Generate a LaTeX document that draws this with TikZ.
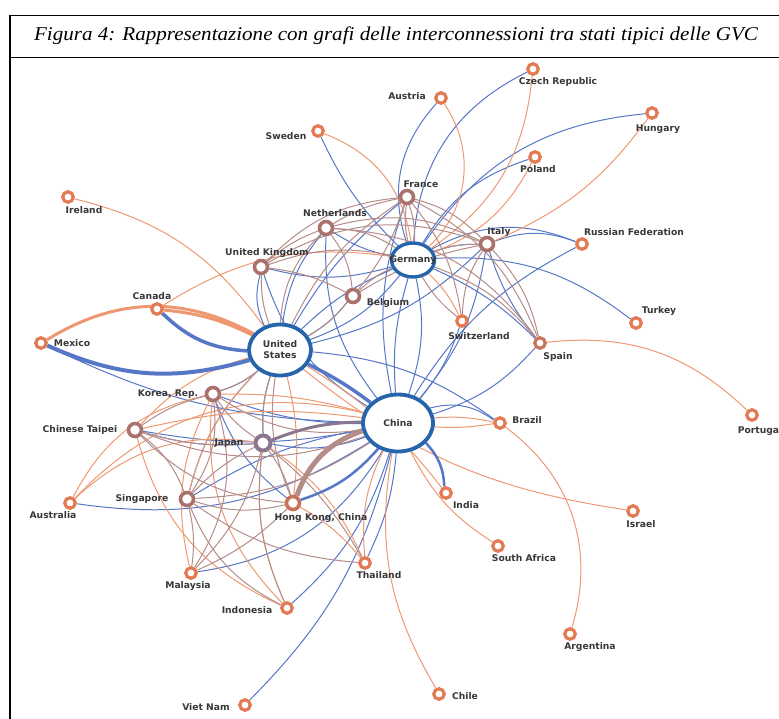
\documentclass[tikz,border=0pt]{standalone}
\usepackage{fontspec}
\setmainfont{Liberation Serif}
\newfontfamily\lblfont{DejaVu Sans}
\usetikzlibrary{shapes.geometric}
\pgfdeclarelayer{bg}
\pgfsetlayers{bg,main}
\definecolor{hubblue}{RGB}{38,100,172}
\definecolor{edgeblue}{RGB}{86,118,198}
\definecolor{ringorange}{RGB}{226,122,84}
\definecolor{edgeorange}{RGB}{238,152,114}
\definecolor{ringmauve}{RGB}{170,114,108}
\definecolor{edgemauve}{RGB}{180,140,136}
\definecolor{ringjpn}{RGB}{138,118,142}
\definecolor{ringmix}{RGB}{200,116,90}
\tikzset{
  ring/.style={circle,draw=ringorange,line width=3.2pt,fill=white,minimum size=10.5pt,inner sep=0pt},
  mring/.style={ring,draw=ringmauve,line width=3.6pt,minimum size=13pt},
  hub/.style={ellipse,draw=hubblue,line width=3.8pt,fill=white,inner sep=0pt},
  lbl/.style={inner sep=0pt,font=\lblfont\bfseries\fontsize{9.2}{11}\selectfont,text=black!78,align=center},
  eb/.style={draw=edgeblue,line width=1pt},
  eo/.style={draw=edgeorange,line width=1pt},
  em/.style={draw=edgemauve,line width=1pt},
}
\begin{document}
\begin{tikzpicture}[x=1pt,y=-1pt]
\useasboundingbox (0,0) rectangle (779,718);
% frame and caption
\draw[line width=1.6pt] (10,15.5) rectangle (800,740);
\draw[line width=1.6pt] (10,57.5) -- (800,57.5);
\node[font=\fontsize{19.5}{22}\selectfont\itshape] (title) at (396,36)
  {\scalebox{1.08}[1]{Figura 4: Rappresentazione con grafi delle interconnessioni tra stati tipici delle GVC}};
% hubs
\node[hub,minimum width=62pt,minimum height=51pt] (usa) at (280,350) {};
\node[hub,minimum width=70pt,minimum height=57pt] (chn) at (398,423) {};
\node[hub,minimum width=43pt,minimum height=34pt,line width=3.4pt] (deu) at (413,260) {};
\node[lbl] (usa-t) at (usa) {United\\States};
\node[lbl] (chn-t) at (chn) {China};
\node[lbl] (deu-t) at (deu) {Germany};
% europe
\node[mring] (fra) at (407,197) {};
\node[mring] (nld) at (326,228) {};
\node[mring] (ita) at (487,244) {};
\node[mring] (gbr) at (261,267) {};
\node[mring] (bel) at (353,296) {};
\node[ring] (che) at (462,321) {};
\node[ring,draw=ringmix] (esp) at (540,343) {};
\node[ring] (aut) at (441,98) {};
\node[ring] (cze) at (533,69) {};
\node[ring] (swe) at (318,131) {};
\node[ring] (hun) at (652,113) {};
\node[ring] (pol) at (535,157) {};
\node[ring] (irl) at (68,197) {};
\node[ring] (rus) at (582,244) {};
\node[ring] (tur) at (636,323) {};
\node[ring] (prt) at (752,415) {};
% americas
\node[ring] (can) at (157,309) {};
\node[ring] (mex) at (41,343) {};
\node[ring] (bra) at (500,423) {};
\node[ring] (arg) at (570,634) {};
\node[ring] (chl) at (439,694) {};
% asia and the rest
\node[mring] (kor) at (213,394) {};
\node[mring] (twn) at (135,430) {};
\node[mring,draw=ringjpn,minimum size=15pt,line width=4pt] (jpn) at (263,443) {};
\node[mring] (sgp) at (187,499) {};
\node[mring,draw=ringmix] (hkg) at (293,503) {};
\node[ring] (ind) at (446,493) {};
\node[ring] (aus) at (70,503) {};
\node[ring] (isr) at (633,511) {};
\node[ring] (zaf) at (498,546) {};
\node[ring] (tha) at (365,563) {};
\node[ring] (mys) at (191,573) {};
\node[ring] (idn) at (287,608) {};
\node[ring] (vnm) at (245,705) {};
% labels
\node[lbl] (fra-t) at (421,184) {France};
\node[lbl] (nld-t) at (335,213) {Netherlands};
\node[lbl] (ita-t) at (499,232) {Italy};
\node[lbl] (gbr-t) at (267,253) {United Kingdom};
\node[lbl] (bel-t) at (388,303) {Belgium};
\node[lbl] (che-t) at (479,336) {Switzerland};
\node[lbl] (esp-t) at (558,357) {Spain};
\node[lbl] (aut-t) at (407,96) {Austria};
\node[lbl] (cze-t) at (558,82) {Czech Republic};
\node[lbl] (swe-t) at (286,136) {Sweden};
\node[lbl] (hun-t) at (658,129) {Hungary};
\node[lbl] (pol-t) at (538,169) {Poland};
\node[lbl] (irl-t) at (84,210) {Ireland};
\node[lbl] (rus-t) at (634,232) {Russian Federation};
\node[lbl] (tur-t) at (659,311) {Turkey};
\node[lbl] (prt-t) at (760,431) {Portugal};
\node[lbl] (can-t) at (152,296) {Canada};
\node[lbl] (mex-t) at (72,343) {Mexico};
\node[lbl] (bra-t) at (527,420) {Brazil};
\node[lbl] (arg-t) at (590,647) {Argentina};
\node[lbl] (chl-t) at (465,696) {Chile};
\node[lbl] (kor-t) at (168,394) {Korea, Rep.};
\node[lbl] (twn-t) at (80,430) {Chinese Taipei};
\node[lbl] (jpn-t) at (229,443) {Japan};
\node[lbl] (sgp-t) at (142,499) {Singapore};
\node[lbl] (hkg-t) at (321,518) {Hong Kong, China};
\node[lbl] (ind-t) at (466,505) {India};
\node[lbl] (aus-t) at (53,515) {Australia};
\node[lbl] (isr-t) at (641,524) {Israel};
\node[lbl] (zaf-t) at (524,558) {South Africa};
\node[lbl] (tha-t) at (379,575) {Thailand};
\node[lbl] (mys-t) at (188,586) {Malaysia};
\node[lbl] (idn-t) at (247,610) {Indonesia};
\node[lbl] (vnm-t) at (206,707) {Viet Nam};
% links
\begin{pgfonlayer}{bg}
\foreach \a/\b/\c in {aut/deu/-30,cze/deu/-30,hun/deu/-25,pol/deu/-20,swe/deu/-10,
  rus/deu/-25,rus/ita/-20,rus/chn/-15,tur/deu/-20,chn/bra/25,usa/bra/15,vnm/chn/-15,idn/chn/-15,
  mys/chn/-25,aus/chn/-20,mex/chn/-12,twn/chn/-10,kor/chn/-10,sgp/chn/10,tha/chn/-10,
  usa/deu/10,usa/deu/-15,usa/gbr/20,usa/nld/15,usa/fra/10,usa/bel/-10,usa/ita/-15,
  chn/deu/10,chn/deu/-15,chn/fra/15,chn/ita/-15,chn/nld/20,chn/esp/-15,chn/che/-10,
  chn/gbr/20,usa/jpn/-10,usa/kor/10,usa/sgp/-15,twn/jpn/-10,kor/hkg/-15,gbr/deu/-15,
  nld/deu/-10,deu/esp/10,deu/ita/10,jpn/chn/-15,ita/esp/-10}
  \draw[eb] (\a) to[bend left=\c] (\b);
\foreach \a/\b/\c in {aut/deu/40,cze/deu/25,hun/ita/15,pol/deu/20,swe/deu/30,irl/usa/20,
  esp/prt/25,bra/arg/35,bra/chn/-8,bra/chn/6,ind/usa/-10,usa/isr/-15,zaf/chn/15,
  chl/chn/20,tha/jpn/-15,tha/hkg/-10,tha/chn/15,idn/jpn/15,idn/kor/25,mys/kor/20,
  aus/chn/30,aus/jpn/25,aus/kor/25,twn/chn/10,twn/usa/15,kor/chn/8,hkg/usa/-10,
  sgp/usa/15,can/deu/20,ind/chn/-20,che/deu/-10,idn/twn/25}
  \draw[eo] (\a) to[bend left=\c] (\b);
\foreach \a/\b/\c in {fra/deu/10,fra/deu/-10,nld/deu/15,ita/deu/-10,gbr/deu/15,bel/deu/10,
  che/deu/10,esp/deu/-15,fra/ita/15,fra/esp/20,fra/nld/-10,fra/gbr/-20,fra/bel/10,
  fra/che/15,nld/gbr/-10,nld/bel/15,nld/ita/20,nld/esp/25,gbr/bel/10,gbr/ita/25,
  ita/esp/15,ita/che/-15,bel/ita/10,gbr/usa/-10,nld/usa/-20,fra/usa/-15,bel/usa/10,
  jpn/usa/10,jpn/kor/10,jpn/twn/10,jpn/sgp/-10,jpn/hkg/10,jpn/mys/15,jpn/idn/-15,
  jpn/tha/10,kor/chn/-20,kor/usa/-10,kor/twn/-10,kor/sgp/20,kor/mys/25,twn/sgp/15,
  twn/hkg/-20,sgp/hkg/-15,sgp/mys/10,sgp/idn/-20,sgp/tha/-15,hkg/usa/15,mys/hkg/-10,
  twn/chn/-20,sgp/chn/-15}
  \draw[em] (\a) to[bend left=\c] (\b);
% heavy links
\draw[eb,line width=4pt] (mex) to[bend right=20] (usa);
\draw[eo,line width=3pt] (mex) to[bend left=30] (usa);
\draw[eb,line width=3.5pt] (can) to[bend right=20] (usa);
\draw[eo,line width=3pt] (can) to[bend left=10] (usa);
\draw[eb,line width=3.5pt] (usa) to[bend left=5] (chn);
\draw[em,line width=5pt] (hkg) to[bend left=25] (chn);
\draw[eb,line width=2.5pt] (hkg) to[bend right=15] (chn);
\draw[draw=ringjpn,line width=3pt] (jpn) to[bend left=10] (chn);
\draw[eb,line width=2.5pt] (chn) to[bend left=20] (ind);
\end{pgfonlayer}
\end{tikzpicture}
\end{document}
